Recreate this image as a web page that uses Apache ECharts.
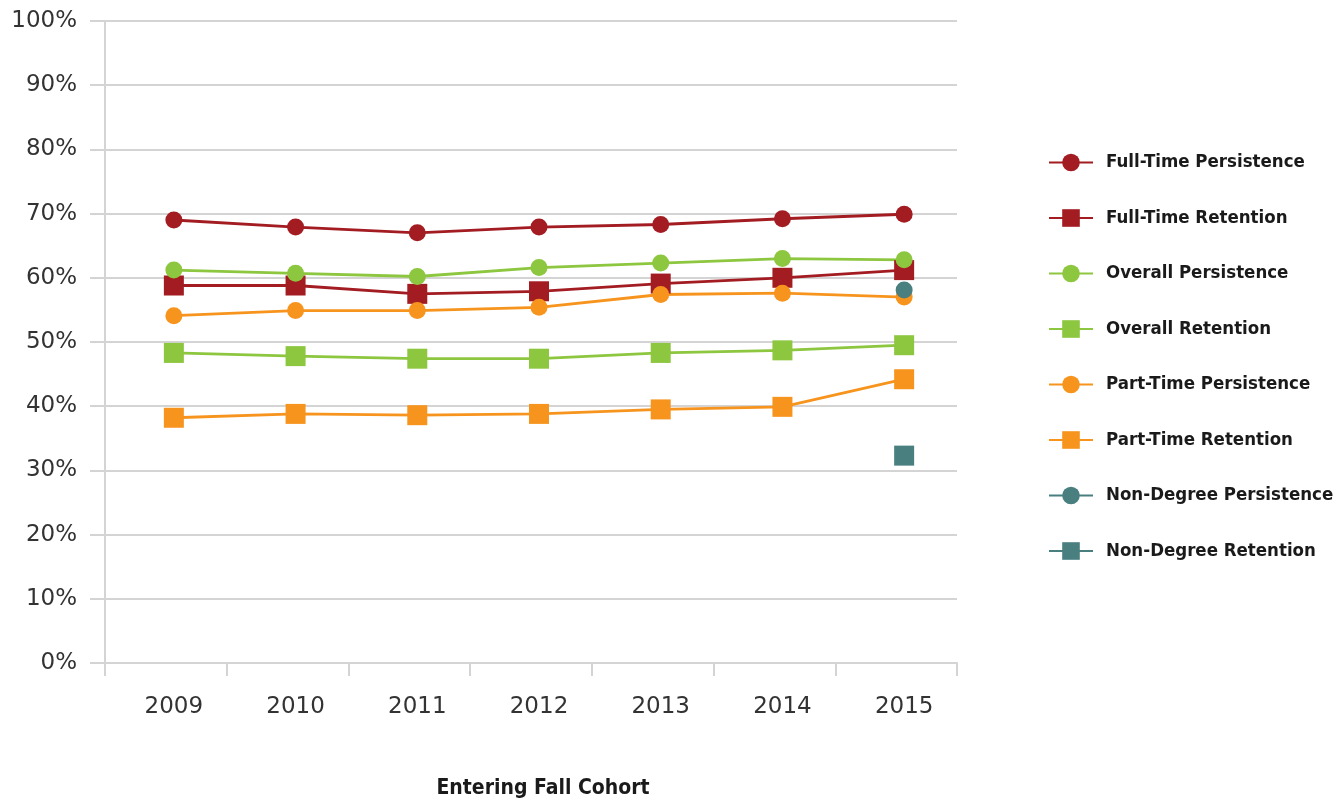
<!DOCTYPE html>
<html>
<head>
<meta charset="utf-8">
<script src="https://cdn.jsdelivr.net/npm/echarts@6/dist/echarts.min.js"></script>
<style>
  html, body { margin: 0; padding: 0; background: #fff; }
  #main { width: 1338px; height: 799px; }
</style>
</head>
<body>
<div id="main"></div>
<script>
var years = ['2009', '2010', '2011', '2012', '2013', '2014', '2015'];
var yTicks = [0, 10, 20, 30, 40, 50, 60, 70, 80, 90, 100];

var fullTimePersistence = [69.0, 67.9, 67.0, 67.9, 68.3, 69.2, 69.9];
var fullTimeRetention   = [58.8, 58.8, 57.5, 57.9, 59.1, 60.0, 61.2];
var overallPersistence  = [61.2, 60.7, 60.2, 61.6, 62.3, 63.0, 62.8];
var overallRetention    = [48.3, 47.8, 47.4, 47.4, 48.3, 48.7, 49.5];
var partTimePersistence = [54.1, 54.9, 54.9, 55.4, 57.4, 57.6, 57.0];
var partTimeRetention   = [38.2, 38.8, 38.6, 38.8, 39.5, 39.9, 44.2];
var nonDegreePersistence = [null, null, null, null, null, null, 58.1];
var nonDegreeRetention   = [null, null, null, null, null, null, 32.3];

var boldFont = "'DejaVu Sans Condensed', Roboto, sans-serif";
var tickFont = "'DejaVu Sans', sans-serif";

var chart = echarts.init(document.getElementById('main'));

// series sit in grid 1, which is nudged right of the frame like the original
function line(name, data, color, symbol) {
    return {
        name: name,
        type: 'line',
        xAxisIndex: 1,
        yAxisIndex: 1,
        data: data,
        symbol: symbol,
        symbolSize: symbol === 'rect' ? 20 : 17,
        showAllSymbol: true,
        itemStyle: { color: color, opacity: 1 },
        lineStyle: { color: color, width: 2.8 },
        emphasis: { disabled: true },
        animation: false
    };
}

chart.setOption({
    backgroundColor: '#fff',
    grid: [
        { left: 105, right: 381, top: 21, bottom: 136, outerBoundsMode: 'none' },
        { left: 113, right: 373, top: 21, bottom: 136, outerBoundsMode: 'none' }
    ],
    legend: {
        orient: 'vertical',
        left: 1043,
        top: 148,
        itemWidth: 44,
        itemHeight: 22,
        itemGap: 36.5,
        textStyle: {
            fontFamily: boldFont,
            fontWeight: 'bold',
            fontSize: 18.5,
            color: '#1a1a1a',
            padding: [0, 0, 0, 8]
        },
        data: ['Full-Time Persistence', 'Full-Time Retention', 'Overall Persistence',
               'Overall Retention', 'Part-Time Persistence', 'Part-Time Retention',
               'Non-Degree Persistence', 'Non-Degree Retention']
    },
    xAxis: [{
        type: 'category',
        gridIndex: 0,
        data: years,
        boundaryGap: true,
        axisLine: { show: true, lineStyle: { color: '#d4d4d4', width: 2 } },
        axisTick: { show: true, length: 13, lineStyle: { color: '#d4d4d4', width: 2 } },
        axisLabel: { show: false }
    }, {
        type: 'category',
        gridIndex: 1,
        data: years,
        boundaryGap: true,
        name: 'Entering Fall Cohort',
        nameLocation: 'middle',
        nameGap: 115,
        nameTextStyle: {
            fontFamily: boldFont,
            fontWeight: 'bold',
            fontSize: 21,
            color: '#1a1a1a',
            padding: [0, 0, 0, 8]
        },
        axisLine: { show: false },
        axisTick: { show: false },
        axisLabel: {
            margin: 33,
            fontFamily: tickFont,
            fontSize: 23,
            color: '#333'
        }
    }],
    yAxis: [{
        type: 'value',
        gridIndex: 0,
        min: yTicks[0],
        max: yTicks[yTicks.length - 1],
        interval: 10,
        axisLine: { show: true, lineStyle: { color: '#d4d4d4', width: 2 } },
        axisTick: { show: true, length: 15, lineStyle: { color: '#d4d4d4', width: 2 } },
        splitLine: { lineStyle: { color: '#d4d4d4', width: 2 } },
        axisLabel: {
            margin: 28,
            fontFamily: tickFont,
            fontSize: 23,
            color: '#333',
            formatter: '{value}%'
        }
    }, {
        type: 'value',
        gridIndex: 1,
        min: yTicks[0],
        max: yTicks[yTicks.length - 1],
        interval: 10,
        show: false
    }],
    series: [
        line('Full-Time Persistence', fullTimePersistence, '#A21C22', 'circle'),
        line('Full-Time Retention', fullTimeRetention, '#A21C22', 'rect'),
        line('Overall Persistence', overallPersistence, '#8DC63F', 'circle'),
        line('Overall Retention', overallRetention, '#8DC63F', 'rect'),
        line('Part-Time Persistence', partTimePersistence, '#F7941E', 'circle'),
        line('Part-Time Retention', partTimeRetention, '#F7941E', 'rect'),
        line('Non-Degree Persistence', nonDegreePersistence, '#4A7F80', 'circle'),
        line('Non-Degree Retention', nonDegreeRetention, '#4A7F80', 'rect')
    ]
});
</script>
</body>
</html>
